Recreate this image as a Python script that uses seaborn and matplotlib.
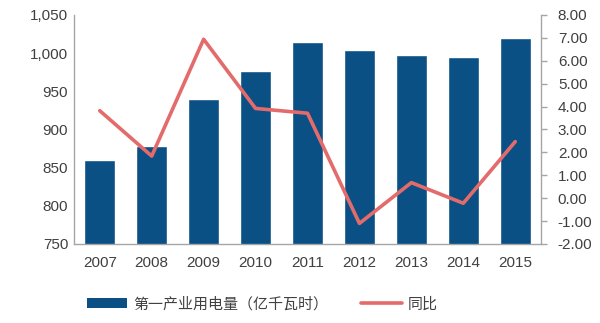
import matplotlib
matplotlib.use("Agg")
import matplotlib.pyplot as plt
import seaborn as sns
import pandas as pd
from matplotlib.ticker import FuncFormatter, FixedLocator
from matplotlib.patches import Patch
from matplotlib.lines import Line2D

years = ["2007", "2008", "2009", "2010", "2011", "2012", "2013", "2014", "2015"]
consumption = [860, 879, 940, 977, 1014, 1004, 997, 995, 1020]
yoy = [3.82, 1.84, 6.94, 3.92, 3.71, -1.10, 0.68, -0.22, 2.47]

bar_label = "第一产业用电量（亿千瓦时）"
line_label = "同比"

sns.set_style("white")
plt.rcParams["font.family"] = ["Liberation Sans", "Noto Sans CJK SC", "DejaVu Sans"]

bar_color = "#0B5084"
line_color = "#E46B6B"
text_color = "#404040"
axis_color = "#A6A6A6"

df = pd.DataFrame({"year": years, "value": consumption, "yoy": yoy})

fig = plt.figure(figsize=(6.0, 3.23), dpi=100)
ax = fig.add_axes([0.123, 0.2446, 0.779, 0.709])

sns.barplot(data=df, x="year", y="value", color=bar_color, width=0.6,
            saturation=1, ax=ax)
ax.set_ylim(750, 1050)
ax.set_xlim(-0.5, 8.5)
ax.yaxis.set_major_locator(FixedLocator(range(750, 1051, 50)))
ax.yaxis.set_major_formatter(FuncFormatter(lambda v, p: f"{int(v):,}"))
ax.set_xlabel("")
ax.set_ylabel("")
ax.tick_params(axis="y", labelsize=11, colors=text_color, length=0, pad=4)
ax.tick_params(axis="x", labelsize=11, colors=text_color, length=0, pad=9)
for s in ["top", "right"]:
    ax.spines[s].set_visible(False)
for s in ["left", "bottom"]:
    ax.spines[s].set_color(axis_color)
    ax.spines[s].set_linewidth(1)

ax2 = ax.twinx()
sns.lineplot(x=list(range(len(years))), y=yoy, color=line_color,
             linewidth=2.6, ax=ax2)
ax2.set_ylim(-2, 8)
ax2.yaxis.set_major_locator(FixedLocator(range(-2, 9)))
ax2.yaxis.set_major_formatter(FuncFormatter(lambda v, p: f"{v:.2f}"))
ax2.tick_params(axis="y", labelsize=11, labelcolor=text_color, length=4,
                width=1, pad=8, color=axis_color)
for s in ["top", "left", "bottom"]:
    ax2.spines[s].set_visible(False)
ax2.spines["right"].set_color(axis_color)
ax2.spines["right"].set_linewidth(1)
ax2.set_ylabel("")

handles = [Patch(facecolor=bar_color, edgecolor="none"),
           Line2D([0], [0], color=line_color, linewidth=2.6)]
fig.legend(handles, [bar_label, line_label], loc="center",
           bbox_to_anchor=(0.437, 0.058), ncol=2, frameon=False,
           fontsize=10.8, handlelength=2.7, handleheight=0.7,
           columnspacing=2.2, handletextpad=0.4, labelcolor=text_color)

fig.savefig("out.png", dpi=100)
